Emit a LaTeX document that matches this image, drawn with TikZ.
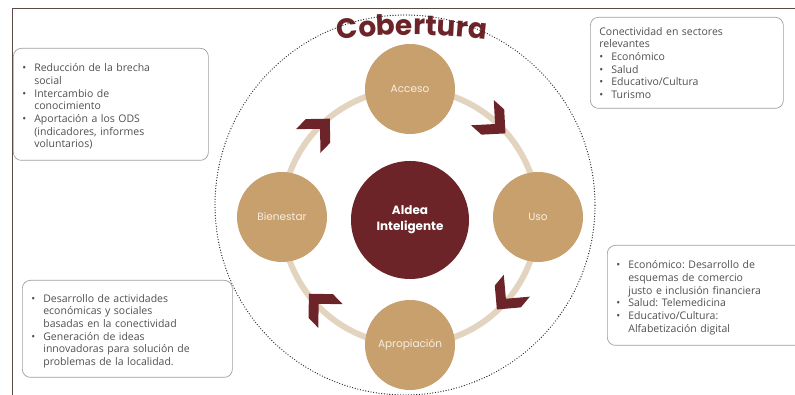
\documentclass[tikz,border=0pt]{standalone}
\usepackage{fontspec}
\setmainfont{Open Sans}
\newfontfamily\headfont{Poppins}
\usetikzlibrary{calc,decorations.text}

\definecolor{vino}{HTML}{6C2429}
\definecolor{arena}{HTML}{C8A06E}
\definecolor{pista}{HTML}{E3D4BF}
\definecolor{tinta}{HTML}{505050}
\definecolor{crema}{HTML}{F7EEE2}
\definecolor{marco}{HTML}{5B4A48}

\newcommand{\punto}[1]{\par\hangindent=12pt\noindent\makebox[12pt][l]{\textbullet}#1\par}

\tikzset{
  etapa/.style={circle, fill=arena, minimum size=90pt, inner sep=0pt, text=crema,
    font=\headfont\fontsize{10.5}{12}\selectfont},
  nucleo/.style={circle, fill=vino, minimum size=118pt, inner sep=0pt, align=center,
    text=white, font=\headfont\bfseries\fontsize{12}{16}\selectfont},
  caja/.style={draw=gray!75, line width=0.7pt, rounded corners=8pt, fill=white,
    anchor=north west, inner xsep=9pt, inner ysep=4pt, text=tinta,
    font=\fontsize{10.5}{12.7}\selectfont\frenchspacing},
  chevron/.style={fill=vino}
}

\begin{document}
\begin{tikzpicture}[x=1pt, y=1pt]
\useasboundingbox (0,0) rectangle (795,395);
% marco
\coordinate (m1) at (12,0);
\coordinate (m2) at (12,386);
\coordinate (m3) at (795,386);
\draw[marco, line width=1pt] (m1) -- (m2) -- (m3);

% ciclo
\coordinate (c) at (410,178);
\draw[pista, line width=6pt] (c) circle (128);
\foreach \a in {48,-40,-136,136}
  \fill[chevron, shift={($(c)+(\a:126)$)}, rotate=\a-90]
    (15,0) -- (-2,17) -- (-16,17) -- (1,0) -- (-16,-17) -- (-2,-17) -- cycle;

\path (c) ++(90:128) node[etapa] (acceso) {Acceso};
\path (c) ++(0:128) node[etapa] (uso) {Uso};
\path (c) ++(-90:128) node[etapa] (apropiacion) {Apropiación};
\path (c) ++(180:128) node[etapa] (bienestar) {Bienestar};
\node[nucleo] (aldea) at ($(c)+(0,-3)$) {Aldea\\Inteligente};

% titulo
\path[decorate, decoration={text along path, text align=center, text color=vino,
    text={|\headfont\bfseries\fontsize{28}{30}\selectfont|Cobertura}}]
  (412,-240) ++(98:600) arc[start angle=98, end angle=82, radius=600];

\coordinate (k) at (405,190);
\draw[gray!30!black, line width=1.3pt, dash pattern=on 0pt off 2.7pt, line cap=round]
  (k) circle (190);

% cajas
\node[caja, text width=177pt, minimum height=112pt] (logros) at (13,347)
  {\punto{Reducción de la brecha\newline social}%
   \punto{Intercambio de\newline conocimiento}%
   \punto{Aportación a los ODS\newline (indicadores, informes\newline voluntarios)}};
\node[caja, text width=175pt, minimum height=91pt] (sectores) at (590,378)
  {\noindent Conectividad en sectores\newline relevantes%
   \punto{Económico}\punto{Salud}\punto{Educativo/Cultura}\punto{Turismo}};
\node[caja, text width=182pt, minimum height=100pt] (servicios) at (607,150)
  {\punto{Económico: Desarrollo de\newline esquemas de comercio\newline justo e inclusión financiera}%
   \punto{Salud: Telemedicina}%
   \punto{Educativo/Cultura:\newline Alfabetización digital}};
\node[caja, text width=192pt, minimum height=97pt] (actividades) at (22,115)
  {\punto{Desarrollo de actividades\newline económicas y sociales\newline basadas en la conectividad}%
   \punto{Generación de ideas\newline innovadoras para solución de\newline problemas de la localidad.}};
\end{tikzpicture}
\end{document}
